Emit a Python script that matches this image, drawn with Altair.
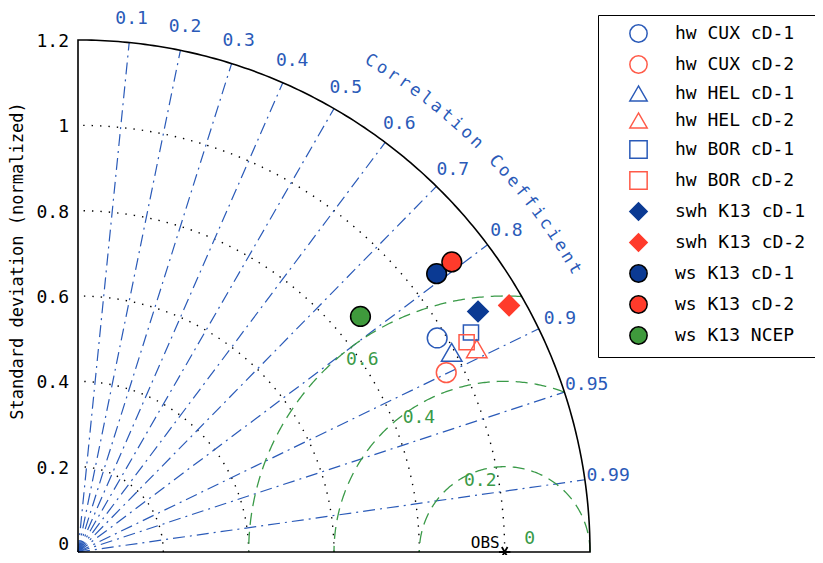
import altair as alt
import numpy as np
import pandas as pd

# ---------------- data ----------------
labels = ["hw CUX cD-1", "hw CUX cD-2", "hw HEL cD-1", "hw HEL cD-2",
          "hw BOR cD-1", "hw BOR cD-2", "swh K13 cD-1", "swh K13 cD-2",
          "ws K13 cD-1", "ws K13 cD-2", "ws K13 NCEP"]
std_norm = [0.980, 0.960, 0.993, 1.049, 1.055, 1.035, 1.094, 1.164, 1.064, 1.109, 0.862]
corr = [0.859, 0.899, 0.882, 0.891, 0.873, 0.880, 0.857, 0.868, 0.790, 0.790, 0.768]

corr_ticks = [0.1, 0.2, 0.3, 0.4, 0.5, 0.6, 0.7, 0.8, 0.9, 0.95, 0.99]
std_ticks = [0, 0.2, 0.4, 0.6, 0.8, 1.0, 1.2]
std_grid = [0.2, 0.4, 0.6, 0.8, 1.0]
rms_levels = [0.2, 0.4, 0.6]
rms_label_vals = [0, 0.2, 0.4, 0.6]
corr_title = "Correlation Coefficient"
y_title = "Standard deviation (normalized)"

# ---------------- styles / layout ----------------
BLUE = "#2a5ab8"
DBLUE = "#0b3a93"
RED = "#ff3b2b"
RED_O = "#ff5a48"
GREEN = "#3f9a3c"
GREEN_L = "#3a9a48"
MONO = "DejaVu Sans Mono"

marker_shape = ["circle", "circle", "triangle-up", "triangle-up", "square", "square",
                "diamond", "diamond", "circle", "circle", "circle"]
marker_stroke = [BLUE, RED_O, BLUE, RED_O, BLUE, RED_O, DBLUE, RED, "black", "black", "black"]
marker_fill = ["transparent"] * 6 + [DBLUE, RED, DBLUE, RED, GREEN]
size_by_shape = {"circle": 390, "triangle-up": 420, "square": 230, "diamond": 420}

RMAX = 1.2
PX = 426.67            # pixels per unit
OX, OY = 70, 544       # origin inside plot area
W, H = 807, 547
xs = alt.Scale(domain=[-OX / PX, (W - OX) / PX], nice=False, zero=False)
ys = alt.Scale(domain=[-(H - OY) / PX, OY / PX], nice=False, zero=False)


def xy(ch):
    return ch.encode(x=alt.X("x:Q", scale=xs, axis=None),
                     y=alt.Y("y:Q", scale=ys, axis=None))


# ---------------- geometry ----------------
th = np.linspace(0, np.pi / 2, 181)
frame = pd.DataFrame({
    "x": [0.0] + list(RMAX * np.cos(th)) + [0.0],
    "y": [0.0] + list(RMAX * np.sin(th)) + [0.0],
})
frame["o"] = range(len(frame))

rows = []
for r in std_grid:
    for i, t in enumerate(th):
        rows.append({"g": r, "o": i, "x": r * np.cos(t), "y": r * np.sin(t)})
dotted = pd.DataFrame(rows)

rows = []
for c in corr_ticks:
    s = np.sqrt(1 - c * c)
    rows.append({"g": c, "o": 0, "x": 0.0, "y": 0.0})
    rows.append({"g": c, "o": 1, "x": RMAX * c, "y": RMAX * s})
radial = pd.DataFrame(rows)

rows = []
for r in rms_levels:
    xint = (1 + RMAX ** 2 - r * r) / 2
    phimin = np.arccos(np.clip((xint - 1) / r, -1, 1))
    for i, p in enumerate(np.linspace(phimin, np.pi, 200)):
        rows.append({"g": r, "o": i, "x": 1 + r * np.cos(p), "y": r * np.sin(p)})
rms_arcs = pd.DataFrame(rows)

corr_lab = pd.DataFrame({
    "x": [1.255 * c for c in corr_ticks],
    "y": [1.255 * np.sqrt(1 - c * c) for c in corr_ticks],
    "t": [f"{c:g}" for c in corr_ticks],
})

rms_ang = [27, 109, 122.6, 126.6]
rms_dist = [0.066, 0.176, 0.373, 0.56]
rms_lab = pd.DataFrame({
    "x": [1 + d * np.cos(np.radians(a)) for d, a in zip(rms_dist, rms_ang)],
    "y": [d * np.sin(np.radians(a)) for d, a in zip(rms_dist, rms_ang)],
    "t": [f"{v:g}" for v in rms_label_vals],
})

rows = []
for i, ch in enumerate(corr_title):
    if ch == " ":
        continue
    a = np.radians(59.2 - 1.34 * i)
    rows.append({"x": 1.34 * np.cos(a), "y": 1.34 * np.sin(a), "t": ch,
                 "rot": 90 - np.degrees(a)})
title_df = pd.DataFrame(rows)

std_lab = pd.DataFrame({"y": std_ticks, "t": [f"{v:g}" for v in std_ticks]})

pts = pd.DataFrame({
    "label": labels,
    "x": [s * c for s, c in zip(std_norm, corr)],
    "y": [s * np.sqrt(1 - c * c) for s, c in zip(std_norm, corr)],
    "sz": [size_by_shape[m] for m in marker_shape],
})

obs = pd.DataFrame({"x": [1.0], "y": [0.0], "t": ["OBS"]})

# ---------------- layers ----------------
l_frame = xy(alt.Chart(frame).mark_line(color="black", strokeWidth=1.6)).encode(order="o:Q")
l_dot = xy(alt.Chart(dotted).mark_line(color="black", strokeWidth=1.4, strokeDash=[1.4, 7])).encode(
    detail="g:N", order="o:Q")
l_rad = xy(alt.Chart(radial).mark_line(color=BLUE, strokeWidth=1.2, strokeDash=[12, 5, 2, 5])).encode(
    detail="g:N", order="o:Q")
l_rms = xy(alt.Chart(rms_arcs).mark_line(color=GREEN_L, strokeWidth=1.3, strokeDash=[12, 7])).encode(
    detail="g:N", order="o:Q")

l_corr_lab = xy(alt.Chart(corr_lab).mark_text(font=MONO, fontSize=18, color=BLUE,
                                              align="center", baseline="middle")).encode(text="t:N")
l_rms_lab = xy(alt.Chart(rms_lab).mark_text(font=MONO, fontSize=18, color=GREEN_L,
                                            align="center", baseline="middle")).encode(text="t:N")
l_title = xy(alt.Chart(title_df).mark_text(font=MONO, fontSize=17, color=BLUE,
                                           align="center", baseline="middle")).encode(
    text="t:N", angle=alt.Angle("rot:Q", scale=None))
l_std_lab = alt.Chart(std_lab).transform_filter("datum.y > 0").mark_text(
    font=MONO, fontSize=18, color="black", align="right", baseline="middle", dy=2).encode(
    x=alt.value(61), y=alt.Y("y:Q", scale=ys, axis=None), text="t:N")
l_std_zero = alt.Chart(std_lab).transform_filter("datum.y == 0").mark_text(
    font=MONO, fontSize=18, color="black", align="right", baseline="bottom", dy=2).encode(
    x=alt.value(61), y=alt.Y("y:Q", scale=ys, axis=None), text="t:N")
l_ytitle = alt.Chart(pd.DataFrame({"t": [y_title]})).mark_text(
    font=MONO, fontSize=17, color="black", angle=270, align="center", baseline="middle").encode(
    x=alt.value(10), y=alt.value(253), text="t:N")

star_path = "M-1,0L1,0M-0.5,-0.87L0.5,0.87M-0.5,0.87L0.5,-0.87"
l_star = xy(alt.Chart(obs).mark_point(shape=star_path, size=130, color="black",
                                      strokeWidth=1.8, filled=False, opacity=1))
l_obs = xy(alt.Chart(obs).mark_text(font=MONO, fontSize=16, color="black", align="right",
                                    baseline="bottom", dx=-5, dy=-1)).encode(text="t:N")

leg = alt.Legend(title=None, orient="none", legendX=590, legendY=7,
                 strokeColor="black", fillColor="white", padding=9,
                 labelFont=MONO, labelFontSize=18, labelColor="black", labelLimit=400,
                 symbolSize=300, symbolStrokeWidth=1.5, rowPadding=6,
                 labelOffset=27, symbolOffset=22)

l_pts = xy(alt.Chart(pts).mark_point(strokeWidth=1.5, opacity=1)).encode(
    shape=alt.Shape("label:N", scale=alt.Scale(domain=labels, range=marker_shape), legend=leg),
    stroke=alt.Stroke("label:N", scale=alt.Scale(domain=labels, range=marker_stroke), legend=leg),
    fill=alt.Fill("label:N", scale=alt.Scale(domain=labels, range=marker_fill), legend=leg),
    size=alt.Size("sz:Q", scale=None),
)

chart = alt.layer(l_dot, l_rad, l_rms, l_frame, l_corr_lab, l_rms_lab, l_title,
                  l_std_lab, l_std_zero, l_ytitle, l_star, l_obs, l_pts).properties(
    width=W, height=H, padding=0, autosize="none", background="white"
).configure_view(stroke=None)

chart.save("out.html", embed_options={"renderer": "svg", "actions": False})
